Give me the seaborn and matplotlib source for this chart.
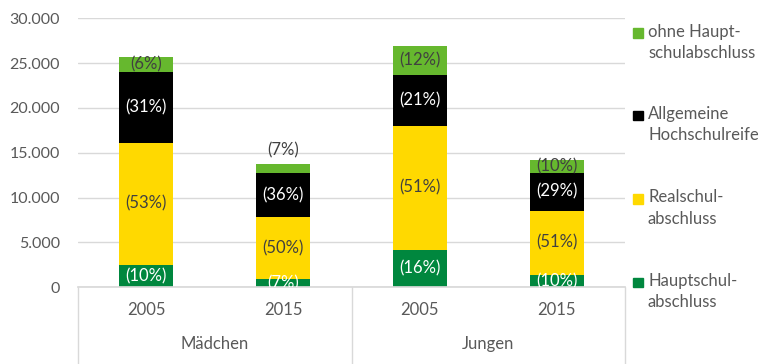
import numpy as np
import pandas as pd
import matplotlib
matplotlib.use("Agg")
import matplotlib.pyplot as plt
import matplotlib.patches as mpatches
import seaborn as sns

# ---- data ----
groups = ["Mädchen", "Mädchen", "Jungen", "Jungen"]
years = ["2005", "2015", "2005", "2015"]
series_names = ["Hauptschul-\nabschluss", "Realschul-\nabschluss",
                "Allgemeine\nHochschulreife", "ohne Haupt-\nschulabschluss"]
haupt = [2520, 930, 4160, 1370]
real = [13610, 6880, 13860, 7170]
abitur = [7920, 4970, 5690, 4240]
ohne = [1630, 970, 3170, 1380]
pct_haupt = ["(10%)", "(7%)", "(16%)", "(10%)"]
pct_real = ["(53%)", "(50%)", "(51%)", "(51%)"]
pct_abitur = ["(31%)", "(36%)", "(21%)", "(29%)"]
pct_ohne = ["(6%)", "(7%)", "(12%)", "(10%)"]
yticks = [0, 5000, 10000, 15000, 20000, 25000, 30000]

colors = ["#00873E", "#FFD900", "#000000", "#66B82E"]
label_colors = ["#FFFFFF", "#404040", "#FFFFFF", "#404040"]
text_gray = "#595959"

sns.set_theme(style="white")
plt.rcParams["font.family"] = ["Lato", "DejaVu Sans"]

fig = plt.figure(figsize=(7.8, 3.64), dpi=100)
ax = fig.add_axes([78 / 780, (364 - 287.3) / 364, (625 - 78) / 780, 269 / 364])

keys = [f"{g} {y}" for g, y in zip(groups, years)]
layers = [haupt, real, abitur, ohne]
cum = np.cumsum(np.array(layers, dtype=float), axis=0)
df = pd.DataFrame({"key": keys})
for i in range(4):
    df[f"top{i}"] = cum[i]
    df[f"bot{i}"] = cum[i] - np.array(layers[i])

# draw from total downward so each layer overlays the previous
for i in reversed(range(4)):
    sns.barplot(data=df, x="key", y=f"top{i}", order=keys, color=colors[i],
                saturation=1, width=0.395, ax=ax, edgecolor="none", linewidth=0,
                errorbar=None)

ax.set_xlim(-0.5, 3.5)
ax.set_ylim(0, 30000)
ax.set_yticks(yticks)
ax.set_yticklabels([f"{v:,}".replace(",", ".") for v in yticks], color=text_gray, fontsize=11.5)
ax.tick_params(axis="y", length=0, pad=13)
ax.set_xticks([])
ax.set_xlabel("")
ax.set_ylabel("")
ax.yaxis.grid(True, color="#D9D9D9", linewidth=1)
ax.set_axisbelow(True)
for s in ["top", "right", "left"]:
    ax.spines[s].set_visible(False)
ax.spines["bottom"].set_color("#D9D9D9")

pcts = [pct_haupt, pct_real, pct_abitur, pct_ohne]
for i in range(4):
    for j in range(4):
        mid = (df[f"top{i}"][j] + df[f"bot{i}"][j]) / 2
        if i == 3 and layers[i][j] < 1200:
            ax.annotate(pcts[i][j], (j, df[f"top{i}"][j]), xytext=(0, 10),
                        textcoords="offset points", ha="center", va="center",
                        color=label_colors[i], fontsize=12, zorder=5)
        else:
            ax.text(j, mid, pcts[i][j], ha="center", va="center", zorder=5,
                    color=label_colors[i], fontsize=12, clip_on=True)

# grouped category axis
trans = ax.get_xaxis_transform()
for xv in [-0.5, 1.5, 3.5]:
    ax.plot([xv, xv], [0, -0.3], transform=trans, color="#D9D9D9", lw=1, clip_on=False)
for j, y in enumerate(years):
    ax.text(j, -(310 - 287.3) / 269, y, transform=trans, ha="center", va="center",
            color=text_gray, fontsize=12)
for gi, g in enumerate(["Mädchen", "Jungen"]):
    ax.text(0.5 + 2 * gi, -(344 - 287.3) / 269, g, transform=trans, ha="center",
            va="center", color=text_gray, fontsize=12)

# legend (manual)
leg_y = [33, 115.7, 199, 282.7]
leg_order = [3, 2, 1, 0]
for yy, idx in zip(leg_y, leg_order):
    fig.patches.append(mpatches.Rectangle((633.3 / 780, (364 - yy - 4.7) / 364),
                                          9.4 / 780, 9.4 / 364, transform=fig.transFigure,
                                          color=colors[idx], figure=fig))
    fig.text(648 / 780, (364 - yy + 9.5) / 364, series_names[idx], ha="left", va="top",
             color=text_gray, fontsize=12, linespacing=1.4)

fig.savefig("out.png", dpi=100)
